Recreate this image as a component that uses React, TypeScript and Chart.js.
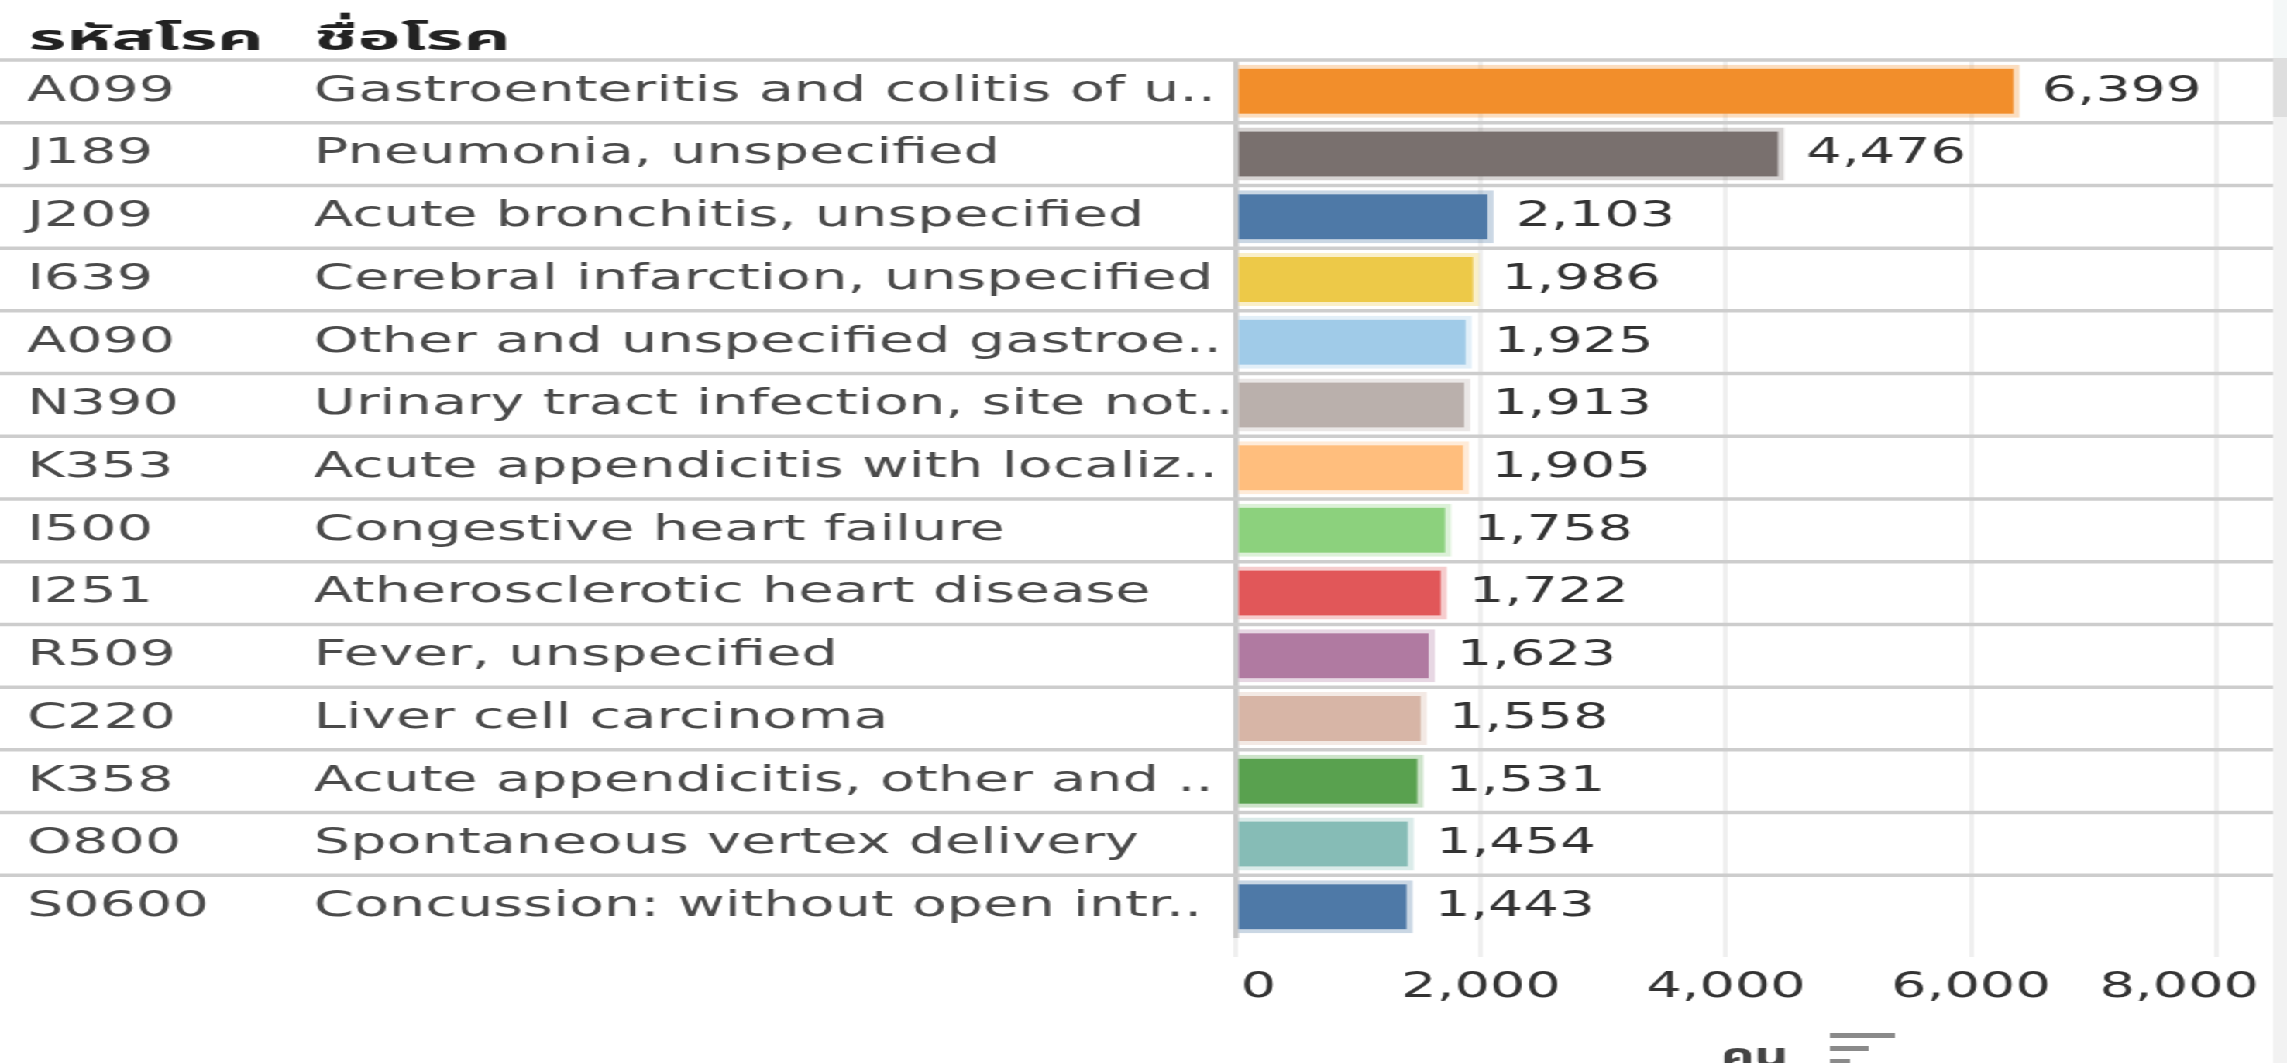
import React, { useEffect, useRef } from "react";
import { Chart, registerables } from "chart.js";

Chart.register(...registerables);

const codes = ["A099", "J189", "J209", "I639", "A090", "N390", "K353", "I500", "I251", "R509", "C220", "K358", "O800", "S0600"];
const names = [
  "Gastroenteritis and colitis of u..",
  "Pneumonia, unspecified",
  "Acute bronchitis, unspecified",
  "Cerebral infarction, unspecified",
  "Other and unspecified gastroe..",
  "Urinary tract infection, site not..",
  "Acute appendicitis with localiz..",
  "Congestive heart failure",
  "Atherosclerotic heart disease",
  "Fever, unspecified",
  "Liver cell carcinoma",
  "Acute appendicitis, other and ..",
  "Spontaneous vertex delivery",
  "Concussion: without open intr..",
];
const values = [6399, 4476, 2103, 1986, 1925, 1913, 1905, 1758, 1722, 1623, 1558, 1531, 1454, 1443];
const colors = ["#F28E2B", "#79706E", "#4E79A7", "#EDC948", "#A0CBE8", "#BAB0AC", "#FFBE7D", "#8CD17D", "#E15759", "#B07AA1", "#D7B5A6", "#59A14F", "#86BCB6", "#4E79A7"];
const xTicks = [0, 2000, 4000, 6000, 8000];
const headers = ["รหัสโรค", "ชื่อโรค"];
const axisTitle = "คน";

const W = 1476;
const H = 1063;
const S = 2287 / W;
const FONT = "'DejaVu Sans', Verdana, Tahoma, 'Noto Sans Thai', sans-serif";

function hexA(hex: string, a: number) {
  const n = parseInt(hex.slice(1), 16);
  return `rgba(${(n >> 16) & 255},${(n >> 8) & 255},${n & 255},${a})`;
}

function drawText(ctx: CanvasRenderingContext2D, text: string, x: number, y: number, sx: number) {
  ctx.save();
  ctx.translate(x, y);
  ctx.scale(sx, 1);
  ctx.fillText(text, 0, 0);
  ctx.restore();
}

const tablePlugin = {
  id: "tablePlugin",
  beforeDatasetsDraw(chart: any) {
    const { ctx, chartArea, scales } = chart;
    const y = scales.y;
    const x = scales.x;
    const n = codes.length;
    const rowH = y.getPixelForValue(1) - y.getPixelForValue(0);
    ctx.save();
    const x0 = x.getPixelForValue(0);
    ctx.strokeStyle = "#c8c8c8";
    ctx.lineWidth = 3.5;
    ctx.beginPath();
    ctx.moveTo(x0, chartArea.top);
    ctx.lineTo(x0, chartArea.bottom);
    ctx.stroke();
    ctx.strokeStyle = "#cdcdcd";
    ctx.lineWidth = 3.5;
    for (let i = 0; i < n; i++) {
      const top = y.getPixelForValue(i) - rowH / 2;
      ctx.beginPath();
      ctx.moveTo(0, top);
      ctx.lineTo(1467, top);
      ctx.stroke();
    }
    ctx.restore();
  },
  afterDraw(chart: any) {
    const { ctx, scales } = chart;
    const y = scales.y;
    const x = scales.x;
    ctx.save();
    ctx.textAlign = "left";
    // headers
    ctx.textBaseline = "alphabetic";
    ctx.fillStyle = "#222";
    ctx.font = `bold 36px ${FONT}`;
    const hw1 = ctx.measureText(headers[0]).width;
    const hw2 = ctx.measureText(headers[1]).width;
    drawText(ctx, headers[0], 18.5, 50, 151.7 / hw1);
    drawText(ctx, headers[1], 202.6, 50, 127 / hw2);
    // rows
    ctx.textBaseline = "middle";
    ctx.font = `36px ${FONT}`;
    for (let i = 0; i < codes.length; i++) {
      const yc = y.getPixelForValue(i);
      ctx.fillStyle = "#4a4a4a";
      drawText(ctx, codes[i], 17.4, yc, 1.025);
      drawText(ctx, names[i], 202.6, yc, 1.028);
      ctx.fillStyle = "#333";
      const xe = x.getPixelForValue(values[i]);
      ctx.fillText(values[i].toLocaleString("en-US"), xe + 14.2, yc);
    }
    // x tick labels
    const x0 = x.getPixelForValue(0);
    ctx.fillStyle = "#333";
    for (const v of xTicks) {
      const px = x.getPixelForValue(v);
      const label = v.toLocaleString("en-US");
      const w = ctx.measureText(label).width;
      let left = px - w / 2;
      if (left < x0 + 3) left = x0 + 3;
      if (left + w > 1458) left = 1458 - w;
      ctx.fillText(label, left, 988);
    }
    // axis title
    ctx.textAlign = "center";
    ctx.fillStyle = "#444";
    ctx.font = `bold 34px ${FONT}`;
    ctx.fillText(axisTitle, (x0 + 1467) / 2, 1058);
    // sort icon
    ctx.fillStyle = "#8a8a8a";
    ctx.fillRect(1181, 1033, 42, 5);
    ctx.fillRect(1181, 1046, 25, 5);
    ctx.fillRect(1181, 1059, 13, 5);
    // scrollbar
    ctx.fillStyle = "#f4f7f7";
    ctx.fillRect(1467, 0, W - 1467, 58);
    ctx.fillStyle = "#dedede";
    ctx.fillRect(1467, 58, W - 1467, 59);
    ctx.fillStyle = "#f2f2f2";
    ctx.fillRect(1467, 117, W - 1467, H - 117);
    ctx.restore();
  },
};

export default function App() {
  const ref = useRef<HTMLCanvasElement | null>(null);
  useEffect(() => {
    if (!ref.current) return;
    Chart.defaults.font.family = FONT;
    const chart = new Chart(ref.current, {
      type: "bar",
      data: {
        labels: codes,
        datasets: [
          {
            data: values,
            backgroundColor: colors,
            borderColor: colors.map((c) => hexA(c, 0.3)),
            borderWidth: 4,
            borderSkipped: "start",
            barPercentage: 0.845,
            categoryPercentage: 1,
          },
        ],
      },
      options: {
        indexAxis: "y",
        animation: false,
        responsive: false,
        devicePixelRatio: 1,
        events: [],
        layout: { padding: { left: 797.7, right: W - 1430.2, top: 60, bottom: H - 957 } },
        plugins: { legend: { display: false }, tooltip: { enabled: false }, title: { display: false } },
        scales: {
          x: {
            min: 0,
            max: 8000,
            position: "bottom",
            ticks: { stepSize: 2000, display: false },
            grid: { color: "#efefef", lineWidth: 3, drawTicks: true, tickLength: 19 },
            border: { display: false },
          },
          y: {
            display: false,
            offset: true,
          },
        },
      },
      plugins: [tablePlugin],
    });
    return () => chart.destroy();
  }, []);
  return (
    <div
      style={{
        position: "absolute",
        left: 0,
        top: 0,
        width: W,
        height: H,
        transform: `scaleX(${S})`,
        transformOrigin: "0 0",
        background: "#fff",
      }}
    >
      <canvas ref={ref} width={W} height={H} style={{ display: "block" }} />
    </div>
  );
}
